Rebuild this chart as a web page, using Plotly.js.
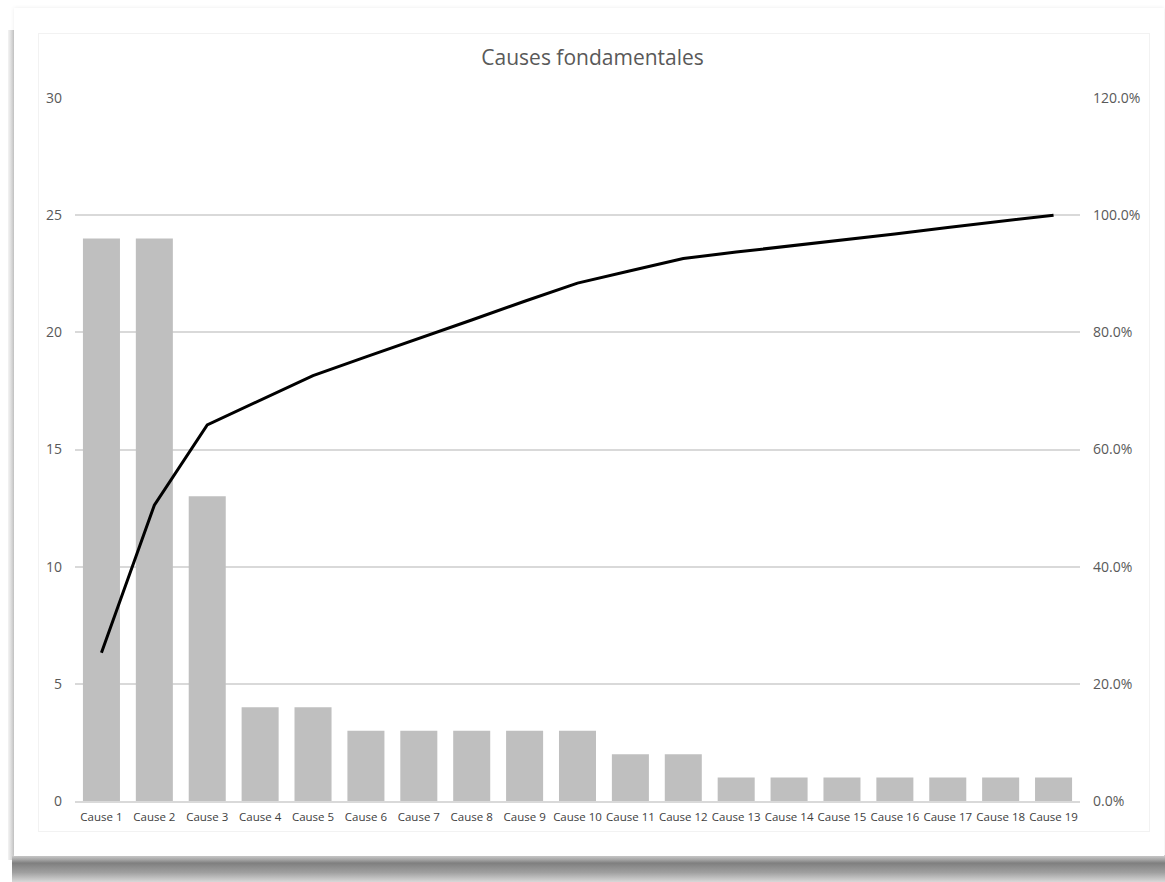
<!DOCTYPE html>
<html>
<head>
<meta charset="utf-8">
<script src="https://cdn.plot.ly/plotly-3.0.1.min.js"></script>
<style>
  html, body { margin:0; padding:0; background:#ffffff; width:1165px; height:882px; overflow:hidden; }
  #shadowL { position:absolute; left:8px; top:30px; width:10px; height:830px; background:linear-gradient(to right,#f4f4f4,#c8c8c8 60%,#e6e6e6); }
  #shadowB { position:absolute; left:12px; top:855px; width:1153px; height:27px; background:linear-gradient(to bottom,#d8d8d8 0%,#7f7f7f 30%,#a0a0a0 65%,#d8d8d8 100%); }
  #card { position:absolute; left:14px; top:8px; width:1150px; height:848px; background:#fff; box-shadow:0 0 4px rgba(0,0,0,0.08); }
  #inner { position:absolute; left:38px; top:33px; width:1110px; height:797px; border:1px solid #f2f2f2; background:#fff; }
  #chart { position:absolute; left:0; top:0; width:1165px; height:882px; }
</style>
</head>
<body>
<div id="shadowL"></div>
<div id="shadowB"></div>
<div id="card"></div>
<div id="inner"></div>
<div id="chart"></div>
<script>
const categories = ["Cause 1","Cause 2","Cause 3","Cause 4","Cause 5","Cause 6","Cause 7","Cause 8","Cause 9","Cause 10","Cause 11","Cause 12","Cause 13","Cause 14","Cause 15","Cause 16","Cause 17","Cause 18","Cause 19"];
const counts = [24,24,13,4,4,3,3,3,3,3,2,2,1,1,1,1,1,1,1];
const cumulativePct = [0.253,0.505,0.642,0.684,0.726,0.758,0.789,0.821,0.853,0.884,0.905,0.926,0.937,0.947,0.958,0.968,0.979,0.989,1.0];
const leftTicks = [0,5,10,15,20,25,30];
const rightTicks = [0,0.2,0.4,0.6,0.8,1.0,1.2];

const bars = {
  type:'bar', x:categories, y:counts, marker:{color:'#bfbfbf'}, hoverinfo:'x+y', showlegend:false
};
const line = {
  type:'scatter', mode:'lines', x:categories, y:cumulativePct, yaxis:'y2',
  line:{color:'#000000', width:3}, showlegend:false
};
const layout = {
  width:1165, height:882,
  paper_bgcolor:'rgba(0,0,0,0)', plot_bgcolor:'rgba(0,0,0,0)',
  margin:{l:75, r:85, t:98, b:81},
  font:{family:'"Open Sans", "Liberation Sans", sans-serif', color:'#595959'},
  title:{text:'Causes fondamentales', xref:'paper', x:0.515, xanchor:'center', y:0.935, yanchor:'middle', font:{size:21, color:'#595959'}},
  bargap:0.3,
  xaxis:{
    type:'category', tickfont:{size:11.5, color:'#404040'}, showgrid:false, showline:true,
    linecolor:'#d9d9d9', linewidth:2, ticks:'', ticklabelstandoff:4
  },
  yaxis:{
    range:[0,30], tickvals:leftTicks, ticktext:leftTicks.map(String), gridcolor:'#d9d9d9', gridwidth:2,
    zeroline:false, tickfont:{size:14, color:'#595959'}, ticks:'', ticklabelstandoff:12
  },
  yaxis2:{
    overlaying:'y', side:'right', range:[0,1.2], tickvals:rightTicks,
    ticktext:rightTicks.map(v => (v*100).toFixed(1)+'%'), showgrid:false, zeroline:false,
    tickfont:{size:14, color:'#595959'}, ticks:'', ticklabelstandoff:12
  }
};
Plotly.newPlot('chart', [bars, line], layout, {displayModeBar:false, staticPlot:true});
</script>
</body>
</html>
